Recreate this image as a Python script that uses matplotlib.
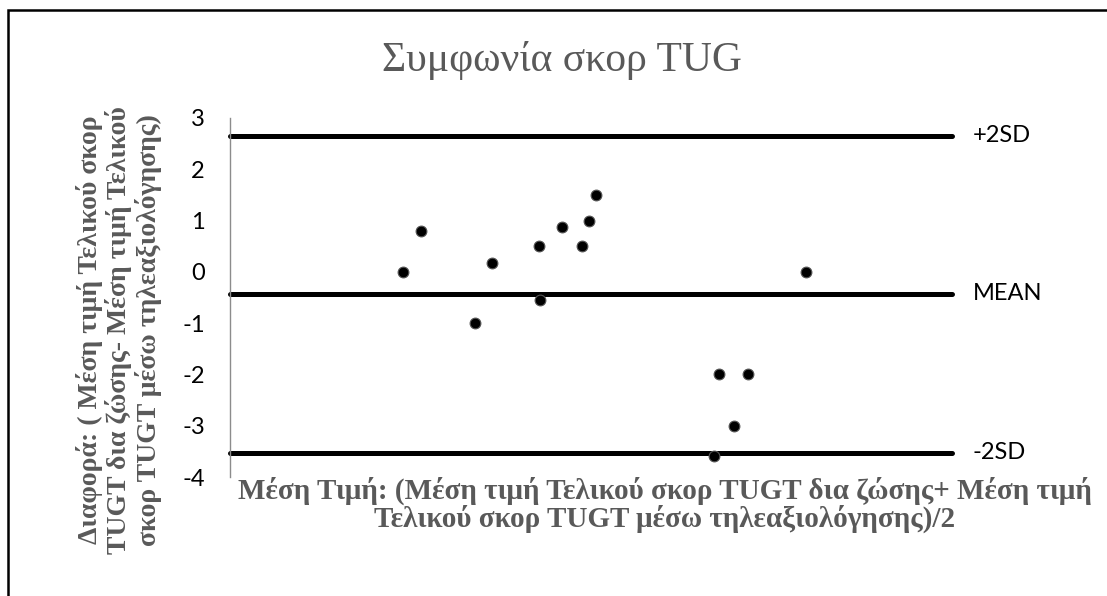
import matplotlib
matplotlib.use("Agg")
import matplotlib.pyplot as plt
from matplotlib.patches import Rectangle

plt.rcParams['axes.unicode_minus'] = False

# Bland-Altman data
mean_vals = [10.8, 11.3, 12.8, 13.25, 14.55, 14.6, 15.2, 15.75, 15.95, 16.15,
             19.4, 19.55, 19.95, 20.35, 21.95]
diff_vals = [0.0, 0.8, -1.0, 0.17, 0.5, -0.55, 0.87, 0.5, 1.0, 1.5,
             -3.6, -2.0, -3.0, -2.0, 0.0]

ref_names = ['+2SD', 'MEAN', '-2SD']
ref_values = [2.65, -0.43, -3.53]

y_ticks = [3, 2, 1, 0, -1, -2, -3, -4]

title = 'Συμφωνία σκορ TUG'
x_label = ('Μέση Τιμή: (Μέση τιμή Τελικού σκορ TUGT δια ζώσης+ Μέση τιμή\n'
           'Τελικού σκορ TUGT μέσω τηλεαξιολόγησης)/2')
y_label = ('Διαφορά: ( Μέση τιμή Τελικού σκορ\n'
           'TUGT δια ζώσης- Μέση τιμή Τελικού\n'
           'σκορ TUGT μέσω τηλεαξιολόγησης)')

W, H = 1107, 596
fig = plt.figure(figsize=(W / 100, H / 100), dpi=100)
ax = fig.add_axes([230 / W, 1 - 477 / H, 722 / W, (477 - 118) / H])

x_min, x_max = 6, 26
for v in ref_values:
    ax.plot([x_min, x_max], [v, v], color='black', lw=3.6,
            solid_capstyle='round', zorder=2, clip_on=False)
ax.scatter(mean_vals, diff_vals, s=60, color='black', edgecolor='#555555',
           linewidth=0.8, zorder=3, clip_on=False)

ax.set_xlim(x_min, x_max)
ax.set_ylim(-4, 3)
ax.set_yticks(y_ticks)
ax.set_xticks([])
ax.tick_params(axis='y', length=0, pad=18, labelsize=17)
for lab in ax.get_yticklabels():
    lab.set_fontfamily('Lato')

for s in ['top', 'right', 'bottom']:
    ax.spines[s].set_visible(False)
ax.spines['left'].set_color('#8c8c8c')
ax.spines['left'].set_linewidth(1.0)

for name, v in zip(ref_names, ref_values):
    ax.annotate(name, xy=(1, v), xycoords=('axes fraction', 'data'),
                xytext=(15, 0), textcoords='offset points',
                ha='left', va='center', fontsize=17, family='Lato')

fig.text(562 / W, 1 - 60 / H, title, ha='center', va='center',
         fontsize=30, family='Liberation Serif', color='#595959')
fig.text(665 / W, 1 - 505 / H, x_label, ha='center', va='center',
         fontsize=21, family='Liberation Serif', fontweight='bold',
         color='#595959', linespacing=1.0)
fig.text(119 / W, 1 - 330 / H, y_label, ha='center', va='center',
         rotation=90, fontsize=20, family='Liberation Serif',
         fontweight='bold', color='#595959', linespacing=1.12)

# outer frame, only top and left edges visible in the crop
fig.patches.append(Rectangle((8 / W, -0.1), 1.2, 1 - 10 / H + 0.1,
                             transform=fig.transFigure, fill=False,
                             edgecolor='black', linewidth=1.8))

fig.savefig('out.png', dpi=100)
